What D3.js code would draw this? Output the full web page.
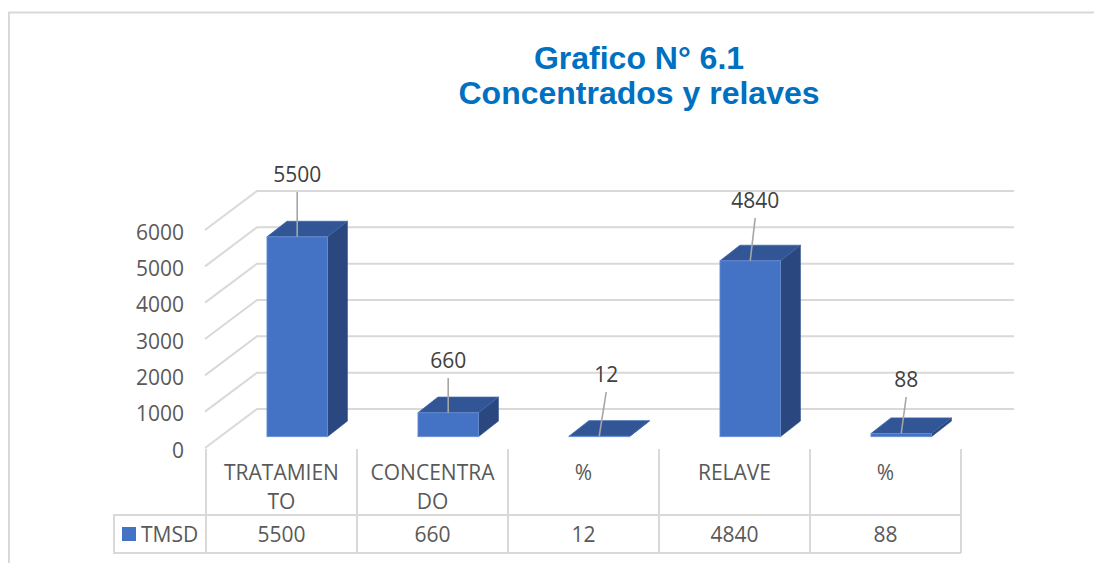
<!DOCTYPE html>
<html><head><meta charset="utf-8">
<script src="https://cdn.jsdelivr.net/npm/d3@7/dist/d3.min.js"></script>
<style>html,body{margin:0;padding:0;background:#fff}svg{display:block}</style>
</head><body><svg id="c" width="1094" height="563"></svg>
<script>
const categories = ["TRATAMIENTO","CONCENTRADO","%","RELAVE","%"];
const categoryLines = [["TRATAMIEN","TO"],["CONCENTRA","DO"],["%"],["RELAVE"],["%"]];
const values = [5500,660,12,4840,88];
const yTicks = [0,1000,2000,3000,4000,5000,6000];
const seriesName = "TMSD";
const titleLines = ["Grafico N° 6.1","Concentrados y relaves"];
const leaderTop = [192,378,392,218,397];
const leaderLean = [0,0,7,5,5];

const svg = d3.select("#c");
const font = "'Open Sans', sans-serif";
const grid = "#d9d9d9";
const textC = "#595959";

// frame
svg.append("path").attr("d","M9,563V12.5H1094").attr("fill","none").attr("stroke",grid).attr("stroke-width",2);

// title
svg.append("g").selectAll("text").data(titleLines).join("text")
  .attr("x",639).attr("y",(d,i)=>68.5+i*35).attr("text-anchor","middle")
  .attr("font-family","'Liberation Sans', Arial, sans-serif").attr("font-weight",700)
  .attr("font-size",32).attr("fill","#0070c0").text(d=>d);

// geometry
const tableX = [206,961];
const x = d3.scaleBand().domain(d3.range(values.length)).range(tableX).paddingInner(0);
const wallY0 = 409, wallH = 218;
const y = d3.scaleLinear().domain([0,6000]).range([0,wallH]);
const depthX = 52, depthY = 39;     // floor depth (front edge is lower-left of wall)
const barDX = 20, barDY = 15.6;     // bar depth
const barW = 60.5;
const baseY = 436.7;

// gridlines: left diagonal + back wall
const gridG = svg.append("g").attr("fill","none").attr("stroke",grid).attr("stroke-width",2);
gridG.selectAll("path").data(yTicks).join("path")
  .attr("d",t=>{const by=wallY0-y(t);return `M${206-1},${by+depthY}L${206+depthX-1},${by}H1014`;});

// y labels
svg.append("g").selectAll("text").data(yTicks).join("text")
  .attr("x",184).attr("y",t=>wallY0+depthY-y(t)+9.5).attr("text-anchor","end")
  .attr("font-family",font).attr("font-size",21).attr("fill",textC).text(t=>t);

// bars
const bars = svg.append("g").selectAll("g").data(values).join("g");
const bx = (d,i)=>x(i)+x.bandwidth()/2 - barW/2 + 15.7;
bars.append("path").attr("fill","#2a4780").attr("stroke","#2f4f8c").attr("stroke-width",.6)
  .attr("d",(d,i)=>{const r=bx(d,i)+barW,t=baseY-y(d);
    return `M${r},${baseY}V${t}l${barDX},${-barDY}V${baseY-barDY}Z`;});
bars.append("path").attr("fill","#325596").attr("stroke","#3f66ad").attr("stroke-width",.8)
  .attr("d",(d,i)=>{const l=bx(d,i),t=baseY-y(d);
    return `M${l},${t}l${barDX},${-barDY}h${barW}l${-barDX},${barDY}Z`;});
bars.append("rect").attr("fill","#4472c4").attr("stroke","#6a8fd4").attr("stroke-width",.8)
  .attr("x",bx).attr("width",barW).attr("y",d=>baseY-y(d)).attr("height",d=>y(d));

// leaders + labels
const mid=(d,i)=>bx(d,i)+barW/2;
svg.append("g").selectAll("line").data(values).join("line")
  .attr("x1",mid).attr("y1",d=>baseY-y(d))
  .attr("x2",(d,i)=>mid(d,i)+leaderLean[i]).attr("y2",(d,i)=>leaderTop[i])
  .attr("stroke","#a6a6a6").attr("stroke-width",1.6);
svg.append("g").selectAll("text").data(values).join("text")
  .attr("x",(d,i)=>mid(d,i)+leaderLean[i]).attr("y",(d,i)=>leaderTop[i]-10.5)
  .attr("text-anchor","middle").attr("font-family",font).attr("font-size",21)
  .attr("fill","#404040").text(d=>d);

// data table
const tableTop=449,rowY=515,tableBottom=553,tableLeft=114;
const lines=svg.append("g").attr("stroke",grid).attr("stroke-width",2).attr("fill","none");
lines.selectAll("line").data(d3.range(values.length+1)).join("line")
  .attr("x1",i=>x(0)+i*x.bandwidth()).attr("x2",i=>x(0)+i*x.bandwidth())
  .attr("y1",tableTop).attr("y2",tableBottom);
lines.append("path").attr("d",`M${tableX[1]},${rowY}H${tableLeft}V${tableBottom}H${tableX[1]}`);

const cat=svg.append("g").attr("font-family",font).attr("font-size",21).attr("fill",textC).attr("text-anchor","middle");
categoryLines.forEach((ls,i)=>{
  cat.append("text").attr("x",x(i)+x.bandwidth()/2).attr("y",480)
    .selectAll("tspan").data(ls).join("tspan")
    .attr("x",x(i)+x.bandwidth()/2).attr("dy",(d,j)=>j?29:0).text(d=>d);
});
svg.append("g").selectAll("text").data(values).join("text")
  .attr("x",(d,i)=>x(i)+x.bandwidth()/2).attr("y",541.5).attr("text-anchor","middle")
  .attr("font-family",font).attr("font-size",21).attr("fill",textC).text(d=>d);
svg.append("rect").attr("x",122).attr("y",527).attr("width",14).attr("height",14).attr("fill","#4472c4");
svg.append("text").attr("x",141).attr("y",541.5).attr("font-family",font).attr("font-size",21).attr("fill",textC).text(seriesName);
</script></body></html>
